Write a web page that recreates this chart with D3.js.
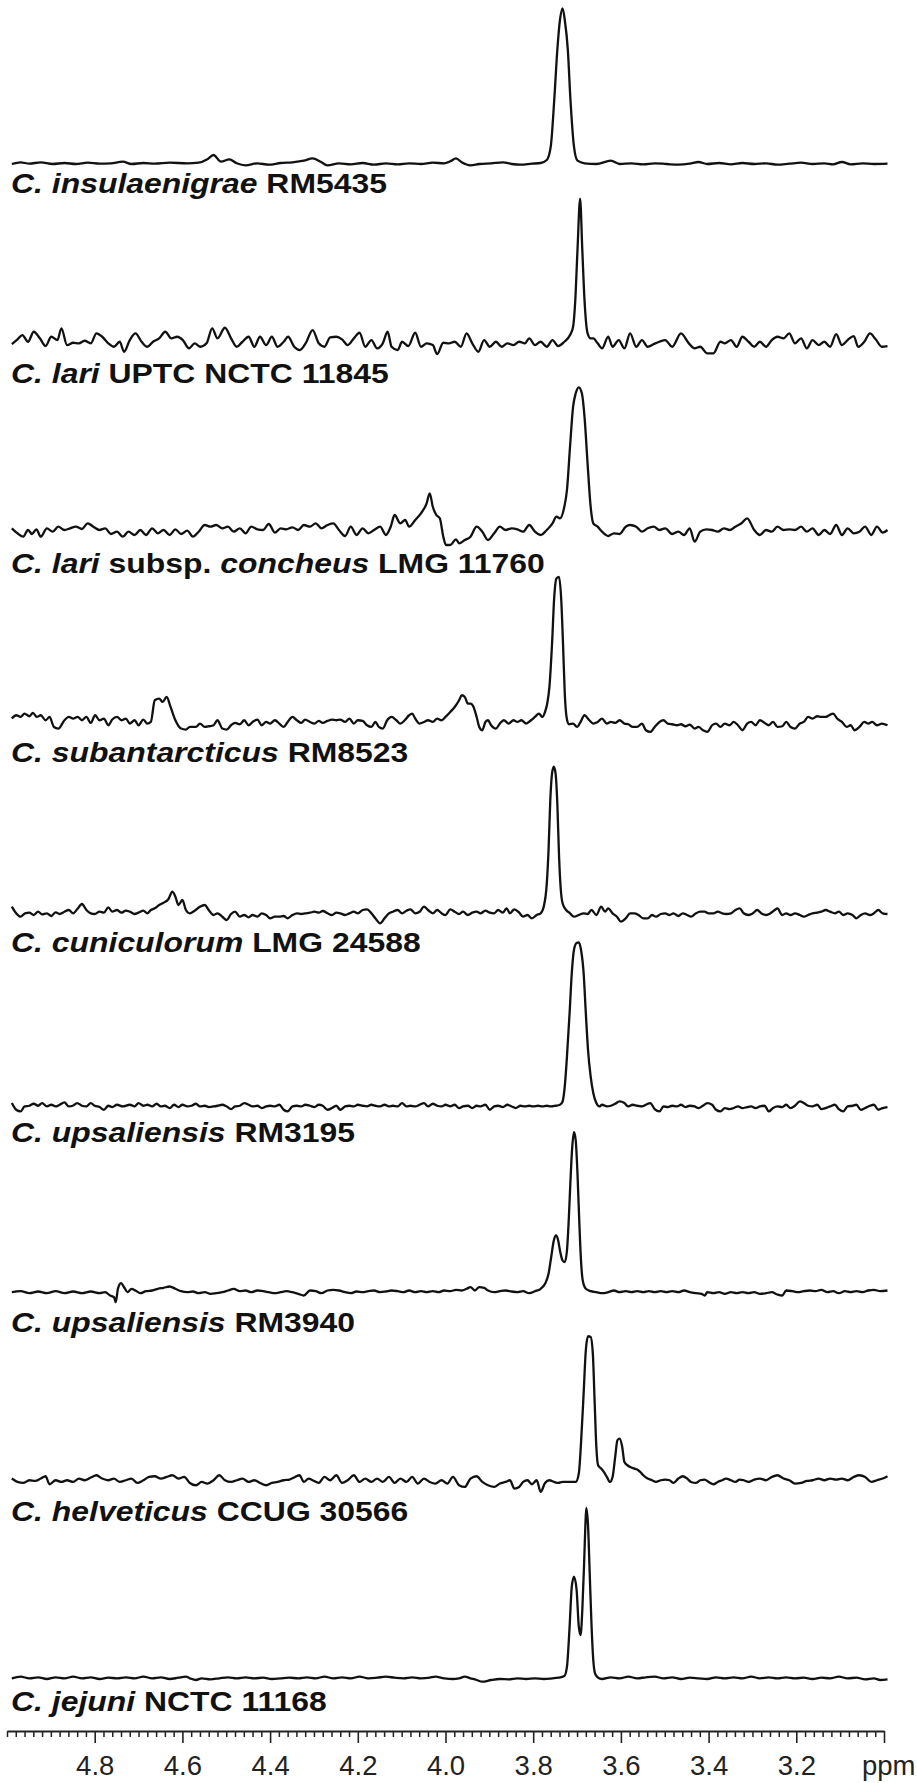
<!DOCTYPE html>
<html><head><meta charset="utf-8">
<script src="https://cdn.jsdelivr.net/npm/d3@7"></script>
<style>html,body{margin:0;padding:0;background:#fff;} svg{display:block;}</style>
</head><body><svg id="chart" width="917" height="1783"></svg>
<script>
// ---------- DATA ----------
const strainLabels = [
  [["C. insulaenigrae", true], [" RM5435", false]],
  [["C. lari", true], [" UPTC NCTC 11845", false]],
  [["C. lari", true], [" subsp. ", false], ["concheus", true], [" LMG 11760", false]],
  [["C. subantarcticus", true], [" RM8523", false]],
  [["C. cuniculorum", true], [" LMG 24588", false]],
  [["C. upsaliensis", true], [" RM3195", false]],
  [["C. upsaliensis", true], [" RM3940", false]],
  [["C. helveticus", true], [" CCUG 30566", false]],
  [["C. jejuni", true], [" NCTC 11168", false]]
];
const majorTicks = [4.8, 4.6, 4.4, 4.2, 4.0, 3.8, 3.6, 3.4, 3.2];
const majorTickLabels = ["4.8", "4.6", "4.4", "4.2", "4.0", "3.8", "3.6", "3.4", "3.2"];
const axisUnit = "ppm";

// spectra: [ppm, intensity (a.u.)]
const specInsulaenigrae = [[4.989,3.0],[4.969,4.7],[4.949,3.3],[4.923,4.7],[4.896,3.0],[4.869,4.0],[4.843,3.0],[4.816,4.3],[4.789,3.3],[4.763,3.7],[4.736,5.3],[4.716,3.0],[4.689,4.0],[4.663,3.3],[4.629,4.3],[4.589,3.7],[4.563,4.3],[4.543,7.7],[4.529,12.0],[4.512,5.3],[4.493,7.7],[4.476,3.7],[4.456,1.7],[4.429,3.7],[4.403,2.3],[4.376,4.0],[4.349,4.7],[4.323,6.3],[4.303,8.7],[4.285,5.3],[4.269,1.7],[4.243,3.7],[4.216,2.7],[4.189,4.0],[4.163,2.3],[4.136,3.7],[4.109,2.7],[4.083,3.7],[4.056,3.0],[4.029,4.3],[4.003,3.7],[3.989,5.7],[3.976,8.7],[3.963,4.7],[3.943,1.7],[3.923,3.0],[3.896,3.7],[3.869,4.7],[3.849,3.0],[3.829,2.3],[3.803,3.3],[3.783,4.0],[3.769,7.0],[3.760,20.3],[3.752,67],[3.745,117],[3.739,147],[3.733,158.7],[3.728,147],[3.721,117],[3.715,67],[3.707,20.3],[3.699,6.3],[3.683,3.7],[3.656,3.0],[3.623,6.3],[3.603,3.0],[3.576,3.7],[3.549,2.7],[3.523,3.7],[3.496,3.0],[3.469,2.3],[3.443,3.3],[3.423,5.0],[3.403,3.0],[3.376,4.0],[3.349,2.7],[3.323,4.0],[3.296,3.0],[3.269,3.7],[3.243,2.3],[3.216,3.3],[3.189,4.3],[3.163,3.0],[3.136,3.7],[3.116,2.7],[3.096,5.0],[3.076,2.7],[3.049,3.7],[3.023,3.0],[2.992,3.3]];

const specLariUPTC = [[4.989,12.7],[4.976,17.4],[4.965,21.7],[4.952,15.0],[4.939,25.0],[4.925,18.4],[4.912,10.7],[4.899,20.0],[4.885,16.7],[4.876,28.4],[4.863,11.7],[4.849,14.0],[4.836,13.4],[4.823,16.0],[4.809,13.4],[4.796,23.4],[4.783,20.0],[4.769,13.4],[4.756,10.0],[4.743,15.0],[4.733,5.0],[4.720,16.7],[4.707,23.4],[4.693,15.0],[4.680,10.0],[4.667,15.0],[4.653,18.4],[4.639,25.0],[4.625,18.4],[4.612,20.0],[4.599,16.7],[4.585,8.4],[4.572,13.4],[4.559,10.0],[4.545,13.4],[4.532,28.4],[4.520,18.4],[4.503,29.0],[4.489,18.4],[4.476,10.0],[4.463,15.0],[4.449,20.0],[4.436,10.0],[4.423,20.0],[4.409,11.7],[4.396,20.0],[4.383,10.0],[4.369,15.0],[4.359,20.0],[4.345,10.0],[4.332,6.7],[4.319,13.4],[4.303,26.7],[4.289,13.4],[4.276,10.0],[4.263,19.4],[4.249,20.0],[4.236,17.4],[4.223,11.7],[4.209,18.4],[4.196,24.0],[4.183,10.0],[4.169,16.7],[4.156,8.4],[4.143,13.4],[4.132,25.0],[4.123,10.0],[4.109,6.7],[4.099,15.0],[4.085,10.7],[4.069,24.0],[4.056,10.0],[4.043,13.4],[4.029,11.7],[4.019,2.7],[4.005,14.0],[3.992,13.4],[3.979,15.0],[3.965,10.0],[3.952,23.4],[3.939,13.4],[3.925,5.0],[3.912,16.7],[3.899,10.0],[3.885,15.0],[3.872,10.0],[3.859,13.4],[3.845,11.7],[3.832,15.0],[3.819,13.4],[3.809,18.4],[3.796,11.7],[3.783,15.0],[3.769,10.0],[3.756,16.7],[3.743,10.7],[3.729,15.0],[3.716,21.7],[3.709,30],[3.704,56.7],[3.699,106.7],[3.693,158],[3.688,106.7],[3.683,56.7],[3.676,23.4],[3.669,18.4],[3.663,18.4],[3.653,13.4],[3.643,8.4],[3.629,20.0],[3.619,10.0],[3.605,16.7],[3.592,8.4],[3.579,23.4],[3.565,10.0],[3.552,16.7],[3.539,10.0],[3.525,12.7],[3.512,15.0],[3.499,16.7],[3.483,10.0],[3.463,23.4],[3.445,13.4],[3.432,8.4],[3.419,10.0],[3.403,3.4],[3.389,3.4],[3.373,15.0],[3.363,13.4],[3.349,16.7],[3.336,10.0],[3.323,20.0],[3.309,15.0],[3.296,10.0],[3.283,15.0],[3.269,10.0],[3.256,16.7],[3.243,20.0],[3.229,18.4],[3.216,23.4],[3.203,13.4],[3.189,18.4],[3.176,8.4],[3.163,16.7],[3.149,11.7],[3.136,15.0],[3.123,10.0],[3.109,22.7],[3.096,11.7],[3.083,16.7],[3.069,20.7],[3.059,10.0],[3.045,15.0],[3.032,23.4],[3.019,17.4],[3.005,10.0],[2.992,10.7]];

const specLariConcheus = [[4.989,18.2],[4.976,13.2],[4.963,9.8],[4.952,16.5],[4.943,12.5],[4.933,17.2],[4.923,9.8],[4.909,18.2],[4.896,14.8],[4.883,19.8],[4.869,16.5],[4.856,18.2],[4.843,19.8],[4.829,17.5],[4.816,23.2],[4.803,19.8],[4.789,16.5],[4.776,18.2],[4.763,12.5],[4.749,14.8],[4.736,9.8],[4.723,14.8],[4.709,11.5],[4.696,16.5],[4.683,11.5],[4.669,18.2],[4.656,13.2],[4.643,16.5],[4.629,11.5],[4.616,17.2],[4.603,12.5],[4.589,15.8],[4.576,9.8],[4.563,14.8],[4.549,21.5],[4.536,19.8],[4.523,21.5],[4.509,18.2],[4.496,19.8],[4.483,14.8],[4.469,18.2],[4.456,13.2],[4.443,19.8],[4.429,17.2],[4.416,16.5],[4.403,22.5],[4.389,13.8],[4.376,18.2],[4.363,17.2],[4.349,19.2],[4.336,16.5],[4.323,21.5],[4.309,19.8],[4.296,23.2],[4.283,18.2],[4.269,21.5],[4.256,23.2],[4.243,16.5],[4.229,10.5],[4.216,19.8],[4.203,11.5],[4.189,18.2],[4.176,13.2],[4.163,16.5],[4.149,19.8],[4.136,11.5],[4.125,19.8],[4.116,31.5],[4.103,23.2],[4.092,26.5],[4.083,19.8],[4.069,26.5],[4.056,33.2],[4.043,43.2],[4.036,53.2],[4.029,39.8],[4.021,31.5],[4.013,28.2],[4.005,9.8],[3.999,1.5],[3.989,1.5],[3.976,7.2],[3.969,3.2],[3.956,6.5],[3.943,9.8],[3.929,19.8],[3.916,14.8],[3.903,6.5],[3.889,13.2],[3.876,19.8],[3.863,16.5],[3.849,18.2],[3.836,17.2],[3.823,14.8],[3.809,21.5],[3.796,14.8],[3.783,11.5],[3.769,16.5],[3.756,23.2],[3.747,29.8],[3.739,28.2],[3.729,39.8],[3.723,56.5],[3.716,99.8],[3.709,139.8],[3.703,153.2],[3.696,159.2],[3.689,153.2],[3.683,129.8],[3.676,83.2],[3.669,39.8],[3.663,23.2],[3.653,19.8],[3.643,14.8],[3.629,10.5],[3.616,13.2],[3.603,12.5],[3.589,19.8],[3.579,21.5],[3.565,19.8],[3.552,14.8],[3.539,18.2],[3.525,19.8],[3.512,16.5],[3.499,18.2],[3.483,12.5],[3.469,14.8],[3.456,11.5],[3.443,18.2],[3.432,4.8],[3.419,14.8],[3.405,17.2],[3.392,16.5],[3.379,14.8],[3.365,18.2],[3.352,16.5],[3.339,19.8],[3.325,23.2],[3.312,28.2],[3.296,16.5],[3.283,11.5],[3.269,16.5],[3.256,14.8],[3.243,19.8],[3.229,16.5],[3.216,17.2],[3.203,16.5],[3.189,19.8],[3.176,14.8],[3.163,18.2],[3.149,11.5],[3.136,16.5],[3.123,12.5],[3.109,21.5],[3.096,11.5],[3.083,18.2],[3.069,13.2],[3.056,14.8],[3.043,19.8],[3.029,11.5],[3.016,19.8],[3.003,13.8],[2.992,16.5]];

const specSubantarcticus = [[4.989,17.7],[4.979,21.0],[4.969,19.3],[4.960,22.7],[4.949,20.0],[4.941,23.3],[4.932,19.3],[4.923,21.0],[4.912,16.0],[4.903,19.3],[4.893,9.3],[4.883,7.7],[4.869,16.0],[4.859,19.3],[4.849,17.7],[4.839,19.3],[4.829,16.0],[4.819,19.3],[4.809,13.3],[4.799,21.0],[4.789,16.0],[4.779,17.7],[4.769,11.0],[4.760,16.7],[4.749,19.3],[4.739,16.0],[4.729,17.7],[4.720,12.7],[4.709,16.0],[4.700,11.0],[4.689,16.7],[4.680,12.7],[4.672,14.3],[4.663,36.0],[4.653,37.7],[4.645,34.3],[4.636,39.3],[4.627,29.3],[4.616,16.0],[4.603,7.7],[4.592,6.7],[4.583,9.3],[4.569,9.3],[4.560,12.7],[4.549,9.3],[4.539,10.0],[4.529,11.0],[4.520,16.0],[4.509,7.7],[4.499,6.7],[4.489,11.0],[4.480,13.3],[4.469,12.0],[4.459,16.0],[4.449,11.0],[4.440,14.3],[4.429,16.7],[4.419,11.0],[4.409,14.3],[4.400,12.7],[4.389,16.0],[4.379,12.7],[4.369,9.3],[4.360,14.3],[4.349,19.3],[4.339,16.0],[4.329,13.3],[4.320,16.7],[4.309,14.3],[4.299,12.7],[4.289,15.3],[4.280,13.3],[4.269,15.3],[4.259,16.7],[4.249,16.0],[4.240,16.7],[4.229,14.3],[4.219,17.7],[4.209,12.7],[4.200,16.0],[4.189,15.3],[4.179,11.0],[4.169,9.3],[4.160,14.3],[4.152,9.3],[4.143,7.7],[4.133,16.0],[4.123,19.3],[4.112,16.0],[4.103,12.7],[4.093,16.0],[4.083,21.0],[4.076,22.7],[4.069,17.7],[4.059,12.7],[4.049,14.3],[4.040,16.0],[4.029,14.3],[4.019,17.7],[4.009,16.0],[4.000,19.3],[3.989,24.3],[3.979,29.3],[3.969,36.0],[3.963,41.0],[3.956,39.3],[3.949,32.7],[3.943,32.7],[3.936,29.3],[3.929,19.3],[3.923,9.3],[3.916,6.0],[3.909,14.3],[3.903,16.0],[3.896,11.0],[3.885,7.7],[3.876,12.7],[3.867,16.0],[3.856,12.7],[3.845,16.0],[3.836,14.3],[3.827,16.0],[3.816,12.7],[3.805,16.0],[3.796,19.3],[3.787,22.7],[3.779,19.3],[3.773,24.3],[3.768,32.7],[3.763,49.3],[3.757,92.7],[3.752,139.3],[3.747,157.7],[3.741,159.3],[3.736,136.0],[3.732,92.7],[3.728,42.7],[3.724,19.3],[3.719,12.0],[3.709,12.7],[3.700,9.3],[3.692,14.3],[3.683,21.0],[3.672,16.0],[3.663,12.7],[3.653,14.3],[3.643,17.7],[3.632,12.7],[3.623,14.3],[3.613,13.3],[3.603,16.0],[3.592,12.7],[3.583,12.0],[3.573,9.3],[3.563,9.3],[3.552,12.7],[3.543,6.0],[3.533,4.3],[3.523,9.3],[3.512,14.3],[3.503,16.0],[3.493,12.7],[3.483,12.0],[3.472,11.0],[3.463,12.0],[3.453,10.0],[3.443,11.7],[3.432,7.7],[3.423,9.3],[3.413,6.0],[3.403,4.3],[3.392,11.0],[3.383,12.7],[3.373,9.3],[3.363,12.7],[3.352,11.0],[3.343,14.3],[3.333,11.0],[3.323,6.0],[3.312,12.7],[3.303,14.3],[3.293,11.0],[3.283,16.0],[3.272,13.3],[3.263,11.0],[3.253,14.3],[3.243,9.3],[3.232,10.0],[3.223,14.3],[3.213,9.3],[3.203,7.7],[3.192,12.7],[3.183,14.3],[3.173,19.3],[3.163,17.7],[3.152,20.0],[3.143,19.3],[3.133,19.3],[3.125,21.0],[3.116,22.7],[3.107,17.7],[3.096,14.3],[3.085,9.3],[3.076,11.0],[3.067,6.0],[3.056,9.3],[3.045,14.3],[3.036,12.7],[3.027,14.3],[3.016,11.0],[3.005,12.7],[2.992,11.0]];

const specCuniculorum = [[4.989,19.3],[4.979,12.7],[4.969,9.3],[4.959,12.7],[4.949,13.3],[4.939,11.0],[4.929,14.3],[4.920,11.7],[4.909,12.7],[4.899,10.0],[4.889,13.7],[4.880,12.0],[4.869,14.3],[4.859,16.0],[4.849,12.7],[4.840,16.7],[4.829,22.0],[4.819,16.0],[4.809,12.7],[4.800,12.0],[4.789,14.3],[4.779,13.3],[4.769,18.7],[4.760,14.3],[4.749,16.0],[4.739,13.3],[4.729,15.3],[4.720,14.3],[4.709,12.0],[4.700,13.3],[4.689,15.3],[4.680,12.7],[4.672,16.0],[4.663,17.7],[4.653,21.0],[4.643,23.3],[4.632,26.7],[4.623,34.3],[4.616,29.3],[4.609,21.0],[4.600,26.0],[4.592,16.0],[4.583,12.7],[4.572,15.3],[4.560,19.3],[4.549,21.0],[4.540,16.0],[4.529,11.0],[4.520,12.7],[4.509,9.3],[4.499,6.0],[4.489,12.0],[4.480,14.3],[4.469,9.3],[4.459,11.0],[4.449,8.7],[4.440,11.0],[4.429,9.3],[4.419,12.7],[4.409,11.0],[4.400,7.7],[4.389,9.3],[4.379,9.3],[4.369,10.0],[4.360,7.7],[4.349,11.0],[4.339,12.7],[4.329,12.0],[4.320,12.7],[4.309,13.3],[4.299,14.3],[4.289,13.3],[4.280,15.0],[4.269,12.7],[4.259,11.0],[4.249,13.3],[4.240,12.7],[4.229,11.0],[4.219,12.7],[4.209,14.3],[4.200,12.7],[4.189,16.0],[4.179,16.7],[4.169,12.7],[4.160,7.7],[4.149,2.7],[4.139,7.7],[4.129,12.7],[4.120,14.3],[4.109,16.0],[4.099,12.7],[4.089,15.3],[4.080,16.7],[4.069,12.7],[4.059,14.3],[4.049,19.3],[4.040,16.0],[4.029,12.7],[4.019,16.0],[4.009,12.7],[4.000,11.0],[3.989,16.7],[3.979,14.3],[3.969,12.0],[3.960,14.3],[3.949,11.0],[3.939,13.3],[3.929,14.3],[3.920,12.7],[3.909,15.3],[3.899,13.3],[3.889,12.7],[3.880,16.0],[3.869,13.3],[3.861,17.7],[3.853,12.7],[3.843,16.7],[3.832,13.3],[3.823,9.3],[3.813,11.0],[3.803,7.7],[3.792,11.0],[3.783,12.7],[3.776,19.3],[3.769,42.7],[3.765,76.0],[3.761,126.0],[3.757,152.7],[3.753,159.3],[3.749,152.7],[3.745,122.7],[3.741,69.3],[3.737,36.0],[3.733,22.7],[3.725,16.0],[3.716,12.7],[3.707,9.3],[3.696,11.0],[3.685,12.7],[3.676,12.0],[3.667,16.0],[3.656,11.0],[3.645,19.3],[3.636,14.3],[3.629,17.7],[3.619,12.7],[3.609,9.3],[3.600,4.3],[3.589,7.7],[3.579,12.7],[3.569,12.7],[3.560,11.0],[3.549,7.7],[3.539,7.7],[3.529,11.0],[3.520,9.3],[3.509,12.0],[3.499,12.7],[3.489,11.0],[3.480,12.7],[3.469,10.0],[3.459,12.7],[3.449,11.0],[3.440,9.3],[3.429,12.7],[3.419,14.3],[3.409,14.3],[3.400,12.7],[3.389,12.7],[3.379,14.3],[3.369,12.7],[3.360,12.0],[3.349,12.7],[3.339,16.0],[3.329,17.7],[3.320,12.7],[3.309,11.0],[3.299,12.7],[3.289,16.0],[3.280,12.7],[3.269,11.0],[3.259,12.7],[3.249,16.0],[3.243,17.7],[3.232,11.0],[3.223,12.7],[3.213,11.0],[3.203,12.7],[3.192,11.0],[3.183,9.3],[3.173,11.0],[3.163,12.7],[3.152,13.3],[3.143,14.3],[3.133,16.0],[3.123,14.3],[3.112,12.7],[3.103,14.3],[3.093,11.0],[3.083,12.7],[3.072,11.0],[3.063,7.7],[3.053,11.0],[3.043,12.7],[3.032,11.0],[3.023,12.7],[3.013,16.0],[3.003,12.7],[2.992,12.0]];

const specUpsaliensis3195 = [[4.989,12.7],[4.979,6.0],[4.969,4.3],[4.960,9.3],[4.949,10.0],[4.939,12.0],[4.929,10.0],[4.920,12.7],[4.909,9.3],[4.899,11.0],[4.889,9.3],[4.880,11.0],[4.869,13.3],[4.859,9.3],[4.849,10.3],[4.840,12.7],[4.829,10.0],[4.819,9.3],[4.809,12.7],[4.800,10.0],[4.789,8.7],[4.779,6.0],[4.769,10.0],[4.760,8.7],[4.749,11.0],[4.736,9.3],[4.720,11.0],[4.709,9.3],[4.700,12.7],[4.689,10.0],[4.680,11.0],[4.669,9.3],[4.659,12.0],[4.649,9.3],[4.640,10.0],[4.629,7.7],[4.619,11.0],[4.609,8.7],[4.600,11.0],[4.589,9.3],[4.579,10.0],[4.569,12.0],[4.560,9.3],[4.549,10.0],[4.539,8.7],[4.529,9.3],[4.520,10.0],[4.509,11.0],[4.499,9.3],[4.489,6.7],[4.480,9.3],[4.469,10.0],[4.459,12.7],[4.449,11.0],[4.440,9.3],[4.429,10.0],[4.419,7.7],[4.409,9.3],[4.400,10.0],[4.389,9.3],[4.379,11.0],[4.369,6.0],[4.360,4.3],[4.349,9.3],[4.339,10.0],[4.329,9.3],[4.320,11.0],[4.309,10.0],[4.299,8.7],[4.289,11.0],[4.280,10.0],[4.269,6.0],[4.259,7.7],[4.249,10.0],[4.240,6.0],[4.229,9.3],[4.219,10.0],[4.209,9.3],[4.200,11.0],[4.189,10.0],[4.179,9.3],[4.169,11.0],[4.160,10.0],[4.149,9.3],[4.139,11.0],[4.129,9.3],[4.120,10.0],[4.109,9.3],[4.099,12.7],[4.089,9.3],[4.080,10.0],[4.069,9.3],[4.059,11.0],[4.049,12.7],[4.040,9.3],[4.029,12.0],[4.019,10.0],[4.009,9.3],[4.000,11.0],[3.989,9.3],[3.979,11.0],[3.969,7.7],[3.960,9.3],[3.949,10.0],[3.939,7.7],[3.929,10.0],[3.920,9.3],[3.909,11.0],[3.899,6.0],[3.889,9.3],[3.880,10.0],[3.869,8.7],[3.859,11.0],[3.849,9.3],[3.840,7.7],[3.829,10.0],[3.819,9.3],[3.809,10.0],[3.800,9.3],[3.789,10.0],[3.779,9.3],[3.769,10.0],[3.760,9.3],[3.749,10.0],[3.739,11.0],[3.733,14.3],[3.728,29.3],[3.723,59.3],[3.717,102.7],[3.712,142.7],[3.707,166.0],[3.701,172.7],[3.696,173.3],[3.691,166.0],[3.685,142.7],[3.680,102.7],[3.675,66.0],[3.669,39.3],[3.663,22.7],[3.656,12.7],[3.649,9.3],[3.643,11.0],[3.632,9.3],[3.623,10.0],[3.613,12.0],[3.603,14.3],[3.592,12.7],[3.583,9.3],[3.573,11.0],[3.563,10.0],[3.552,9.3],[3.543,11.0],[3.533,12.7],[3.523,6.7],[3.512,4.3],[3.503,9.3],[3.493,8.7],[3.483,10.0],[3.472,9.3],[3.463,11.0],[3.453,8.7],[3.443,10.0],[3.432,9.3],[3.423,7.7],[3.413,10.0],[3.403,12.7],[3.392,11.0],[3.383,6.0],[3.373,4.3],[3.363,7.7],[3.352,6.7],[3.343,7.7],[3.333,9.3],[3.323,7.7],[3.312,8.7],[3.303,9.3],[3.293,7.7],[3.283,9.3],[3.272,10.0],[3.263,4.3],[3.253,7.7],[3.243,9.3],[3.232,8.7],[3.223,11.0],[3.213,7.7],[3.203,10.0],[3.192,14.3],[3.183,12.7],[3.173,10.0],[3.163,9.3],[3.152,11.0],[3.143,6.7],[3.133,7.7],[3.123,9.3],[3.112,11.0],[3.103,6.7],[3.093,4.3],[3.083,9.3],[3.072,10.0],[3.063,11.0],[3.053,6.0],[3.043,7.7],[3.032,10.0],[3.023,11.0],[3.013,6.0],[3.003,7.7],[2.992,8.7]];

const specUpsaliensis3940 = [[4.989,13.3],[4.969,14.3],[4.949,12.3],[4.929,14.0],[4.909,12.3],[4.889,14.3],[4.869,12.3],[4.849,14.0],[4.829,12.3],[4.809,14.0],[4.789,12.3],[4.776,13.3],[4.765,10.0],[4.756,8.3],[4.752,3.3],[4.747,16.7],[4.740,22.3],[4.733,18.3],[4.725,13.3],[4.716,16.7],[4.707,15.0],[4.696,12.3],[4.683,14.3],[4.669,15.0],[4.656,16.7],[4.643,17.7],[4.629,19.0],[4.616,16.7],[4.603,14.3],[4.589,13.3],[4.576,14.0],[4.563,12.3],[4.549,13.3],[4.536,11.7],[4.523,12.3],[4.509,13.3],[4.496,15.0],[4.483,16.7],[4.469,14.3],[4.456,15.0],[4.443,13.3],[4.429,15.0],[4.416,14.3],[4.403,13.3],[4.389,12.3],[4.376,13.3],[4.363,14.3],[4.349,13.3],[4.336,11.7],[4.323,10.0],[4.309,15.0],[4.296,14.3],[4.283,12.3],[4.269,15.0],[4.256,15.7],[4.243,15.0],[4.229,13.3],[4.216,12.3],[4.203,14.0],[4.189,13.3],[4.176,14.3],[4.163,15.0],[4.149,13.3],[4.136,14.0],[4.123,15.0],[4.109,14.3],[4.096,13.3],[4.083,15.0],[4.069,13.3],[4.056,14.3],[4.043,13.3],[4.029,14.3],[4.016,13.3],[4.003,15.0],[3.989,14.3],[3.976,15.7],[3.963,15.0],[3.952,16.7],[3.943,18.3],[3.933,15.0],[3.923,18.3],[3.912,17.7],[3.903,15.0],[3.889,13.3],[3.876,14.3],[3.863,15.0],[3.849,14.0],[3.836,13.3],[3.823,14.3],[3.809,12.3],[3.796,14.3],[3.783,16.7],[3.773,21.7],[3.765,31.7],[3.759,48.3],[3.753,65.0],[3.748,70.0],[3.743,65.0],[3.739,55.0],[3.733,45.0],[3.728,43.3],[3.723,55.0],[3.719,85.0],[3.715,125.0],[3.711,158.3],[3.707,173.3],[3.703,165.0],[3.699,131.7],[3.695,85.0],[3.691,45.0],[3.687,25.0],[3.680,16.7],[3.669,14.3],[3.656,13.3],[3.643,12.3],[3.629,13.3],[3.616,15.0],[3.603,13.3],[3.589,14.3],[3.576,13.3],[3.563,14.3],[3.549,13.3],[3.536,14.3],[3.523,13.3],[3.509,14.3],[3.496,13.3],[3.483,14.3],[3.469,13.3],[3.456,15.0],[3.443,13.3],[3.429,12.3],[3.416,11.7],[3.409,10.0],[3.403,13.3],[3.389,12.3],[3.376,13.3],[3.363,11.7],[3.349,13.3],[3.336,12.3],[3.323,13.3],[3.309,12.3],[3.296,13.3],[3.283,11.7],[3.269,12.3],[3.256,13.3],[3.243,11.0],[3.232,10.0],[3.223,15.0],[3.209,14.3],[3.196,13.3],[3.183,14.3],[3.169,15.0],[3.156,14.3],[3.143,15.7],[3.129,13.3],[3.116,14.3],[3.103,12.3],[3.089,14.3],[3.076,13.3],[3.063,14.3],[3.049,13.3],[3.036,15.0],[3.023,15.7],[3.009,14.3],[2.992,15.0]];

const specHelveticus = [[4.989,16.7],[4.976,13.3],[4.963,12.3],[4.949,15.0],[4.936,14.3],[4.923,16.7],[4.912,19.0],[4.903,11.0],[4.889,15.0],[4.876,13.3],[4.863,15.0],[4.849,13.3],[4.836,16.7],[4.823,15.0],[4.809,17.7],[4.796,20.0],[4.783,16.7],[4.769,15.0],[4.756,16.7],[4.743,13.3],[4.729,15.0],[4.716,16.7],[4.703,12.3],[4.689,15.0],[4.676,18.3],[4.663,19.0],[4.649,16.7],[4.636,18.3],[4.623,20.0],[4.609,16.7],[4.596,18.3],[4.583,12.3],[4.569,10.0],[4.556,13.3],[4.543,11.7],[4.529,15.0],[4.516,20.0],[4.503,15.0],[4.489,13.3],[4.476,15.0],[4.463,16.7],[4.449,13.3],[4.436,15.0],[4.423,12.3],[4.409,10.0],[4.396,12.3],[4.383,13.3],[4.369,15.0],[4.356,15.7],[4.343,18.3],[4.333,20.0],[4.323,13.3],[4.312,16.7],[4.303,15.0],[4.289,12.3],[4.276,18.3],[4.263,15.0],[4.249,20.0],[4.236,12.3],[4.223,15.0],[4.209,20.0],[4.196,13.3],[4.183,16.7],[4.169,13.3],[4.156,16.7],[4.143,13.3],[4.129,18.3],[4.116,12.3],[4.103,16.7],[4.089,13.3],[4.076,18.3],[4.063,11.7],[4.049,16.7],[4.036,13.3],[4.023,11.7],[4.009,15.0],[3.996,11.7],[3.983,18.3],[3.969,10.0],[3.956,8.3],[3.943,16.7],[3.929,19.0],[3.916,13.3],[3.903,10.0],[3.889,8.3],[3.876,11.7],[3.863,13.3],[3.853,15.0],[3.843,6.7],[3.832,8.3],[3.823,13.3],[3.813,15.0],[3.803,11.0],[3.792,15.0],[3.783,3.3],[3.773,12.3],[3.763,15.0],[3.752,13.3],[3.743,12.3],[3.733,13.3],[3.723,13.3],[3.712,13.3],[3.703,13.3],[3.696,21.7],[3.691,51.7],[3.685,101.7],[3.680,145.0],[3.675,159.0],[3.669,158.3],[3.664,141.7],[3.660,95.0],[3.656,48.3],[3.652,30.0],[3.645,26.7],[3.639,23.3],[3.632,18.3],[3.625,13.3],[3.619,18.3],[3.613,38.3],[3.608,55.0],[3.603,56.7],[3.597,48.3],[3.592,33.3],[3.585,30.0],[3.579,28.3],[3.569,26.7],[3.563,25.7],[3.556,23.3],[3.549,20.0],[3.539,16.7],[3.529,15.0],[3.520,13.3],[3.509,15.0],[3.499,15.7],[3.489,15.0],[3.480,12.3],[3.469,16.7],[3.459,19.0],[3.449,16.7],[3.440,13.3],[3.429,12.3],[3.419,15.0],[3.409,15.7],[3.400,13.3],[3.389,11.0],[3.379,13.3],[3.369,15.0],[3.360,16.7],[3.349,15.0],[3.339,13.3],[3.329,15.7],[3.320,15.0],[3.309,13.3],[3.296,15.7],[3.283,16.7],[3.269,15.0],[3.256,18.3],[3.243,20.0],[3.229,16.7],[3.216,15.0],[3.203,11.7],[3.189,12.3],[3.176,14.3],[3.163,15.0],[3.149,16.7],[3.136,15.0],[3.123,16.7],[3.109,15.7],[3.096,16.7],[3.083,15.0],[3.069,18.3],[3.056,20.0],[3.043,18.3],[3.029,13.3],[3.016,15.0],[3.003,16.7],[2.992,19.0]];

const specJejuni = [[4.989,6.7],[4.969,8.3],[4.949,6.7],[4.929,7.7],[4.909,6.0],[4.889,7.7],[4.869,6.7],[4.849,8.3],[4.829,6.7],[4.809,7.7],[4.789,6.0],[4.769,7.3],[4.749,6.7],[4.729,7.7],[4.709,6.7],[4.689,8.3],[4.669,6.7],[4.649,7.7],[4.629,6.0],[4.609,7.3],[4.592,8.3],[4.583,6.7],[4.569,5.0],[4.556,6.7],[4.536,5.7],[4.516,6.7],[4.496,7.7],[4.476,6.7],[4.456,7.7],[4.436,6.7],[4.416,7.3],[4.396,6.0],[4.376,6.7],[4.356,7.3],[4.336,6.7],[4.316,7.7],[4.296,6.7],[4.276,8.3],[4.256,6.7],[4.236,7.7],[4.216,6.7],[4.196,8.3],[4.176,6.7],[4.156,7.3],[4.136,8.3],[4.116,7.3],[4.096,6.7],[4.076,7.7],[4.056,6.7],[4.036,7.3],[4.023,8.3],[4.003,6.7],[3.983,6.0],[3.969,6.7],[3.956,8.3],[3.943,6.7],[3.929,5.0],[3.916,3.3],[3.896,5.0],[3.876,6.0],[3.856,5.7],[3.836,6.7],[3.816,6.0],[3.796,6.7],[3.776,6.0],[3.756,6.7],[3.743,7.3],[3.729,9.0],[3.723,18.3],[3.717,58.3],[3.712,98.3],[3.707,108.3],[3.701,95.0],[3.696,58.3],[3.692,50.0],[3.688,75.0],[3.684,120.0],[3.681,160.0],[3.679,177.0],[3.675,160.0],[3.671,110.0],[3.667,60.0],[3.663,25.0],[3.659,11.7],[3.653,7.7],[3.643,6.0],[3.623,7.7],[3.603,6.7],[3.583,8.3],[3.563,6.7],[3.543,7.7],[3.523,8.3],[3.503,6.7],[3.483,7.7],[3.463,6.0],[3.443,7.3],[3.423,6.7],[3.403,6.0],[3.383,7.7],[3.363,6.7],[3.343,7.7],[3.323,6.7],[3.303,8.3],[3.283,6.7],[3.263,7.7],[3.243,6.7],[3.223,7.7],[3.203,6.7],[3.183,7.3],[3.163,6.0],[3.143,7.3],[3.123,6.7],[3.103,8.3],[3.083,6.7],[3.063,7.3],[3.043,5.7],[3.023,6.7],[3.009,5.0],[2.992,5.7]];

const spectra = [specInsulaenigrae, specLariUPTC, specLariConcheus, specSubantarcticus,
  specCuniculorum, specUpsaliensis3195, specUpsaliensis3940, specHelveticus, specJejuni];

// ---------- LAYOUT ----------
const W = 917, H = 1783;
const svg = d3.select("#chart");
svg.append("rect").attr("width", W).attr("height", H).attr("fill", "#fff");

const x = d3.scaleLinear().domain([5.0, 3.0]).range([7, 884]);
const firstLabelBase = 193, panelStep = 189.75, zeroOffset = 26;
const FONT = "'Liberation Sans', Arial, Helvetica, sans-serif";

const line = d3.line().curve(d3.curveMonotoneX);

spectra.forEach((data, i) => {
  const labelBase = firstLabelBase + i * panelStep;
  const zero = labelBase - zeroOffset;
  const y = d3.scaleLinear().domain([0, 180]).range([zero, zero - 180]);
  line.x(d => x(d[0])).y(d => y(d[1]));
  svg.append("path")
    .attr("d", line(data))
    .attr("fill", "none")
    .attr("stroke", "#111")
    .attr("stroke-width", 2.3)
    .attr("stroke-linejoin", "round");

  const t = svg.append("text")
    .attr("transform", `translate(11,${labelBase}) scale(1.12,1)`)
    .attr("font-family", FONT)
    .attr("font-weight", "bold")
    .attr("font-size", 28.5)
    .attr("fill", "#111");
  strainLabels[i].forEach(seg => {
    t.append("tspan").text(seg[0]).attr("font-style", seg[1] ? "italic" : "normal");
  });
});

// ---------- AXIS ----------
const axisY = 1731;
const minorTicks = d3.range(0, 101).map(k => +(5.0 - k * 0.02).toFixed(2))
  .filter(v => !majorTicks.some(m => Math.abs(m - v) < 1e-6) && v > 3.001);

const gMinor = svg.append("g").attr("transform", `translate(0,${axisY})`)
  .call(d3.axisBottom(x).tickValues(minorTicks).tickSize(6).tickFormat(""));
gMinor.select(".domain").remove();
gMinor.selectAll(".tick line").attr("stroke", "#222").attr("stroke-width", 1.5);

const gMajor = svg.append("g").attr("transform", `translate(0,${axisY})`)
  .call(d3.axisBottom(x).tickValues(majorTicks.concat([3.0])).tickSize(12)
    .tickFormat(d => { const k = majorTicks.indexOf(d); return k >= 0 ? majorTickLabels[k] : ""; })
    .tickSizeOuter(0));
gMajor.select(".domain").attr("stroke", "#222").attr("stroke-width", 2);
gMajor.selectAll(".tick line").attr("stroke", "#222").attr("stroke-width", 1.6);
gMajor.selectAll(".tick text")
  .attr("font-family", FONT).attr("font-size", 27.5).attr("fill", "#222")
  .attr("y", 44).attr("dy", 0);

svg.append("text").attr("x", 862).attr("y", axisY + 44)
  .attr("font-family", FONT).attr("font-size", 27.5).attr("fill", "#222")
  .text(axisUnit);
</script></body></html>
